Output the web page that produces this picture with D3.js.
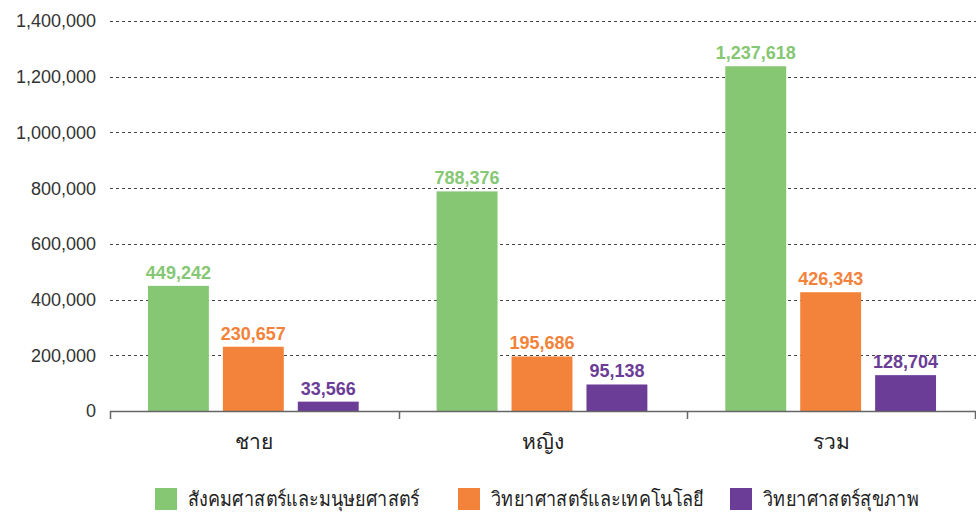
<!DOCTYPE html>
<html>
<head>
<meta charset="utf-8">
<script src="https://cdn.jsdelivr.net/npm/d3@7"></script>
<style>
  body { margin: 0; background: #fff; }
  text { font-family: "Liberation Sans", "Noto Sans", sans-serif; }
</style>
</head>
<body>
<div id="chart"></div>
<script>
'use strict';

// categories and series
let categories = ['ชาย', 'หญิง', 'รวม'];
let seriesNames = ['สังคมศาสตร์และมนุษยศาสตร์', 'วิทยาศาสตร์และเทคโนโลยี', 'วิทยาศาสตร์สุขภาพ'];
let social = [449242, 788376, 1237618];
let scitech = [230657, 195686, 426343];
let health = [33566, 95138, 128704];
let yTicks = [0, 200000, 400000, 600000, 800000, 1000000, 1200000, 1400000];

let colors = ['#86c774', '#f3823a', '#6b3d97'];
let seriesValues = [social, scitech, health];

let width = 976, height = 515;
let margin = { top: 21, right: 0, bottom: 104, left: 110 };

let svg = d3.select('#chart').append('svg')
    .attr('width', width)
    .attr('height', height);

let x0 = d3.scaleBand()
    .domain(categories)
    .range([margin.left, width - margin.right])
    .paddingInner(0)
    .paddingOuter(0);

let x1 = d3.scaleBand()
    .domain(d3.range(seriesNames.length))
    .range([0, x0.bandwidth()])
    .paddingInner(0.187)
    .paddingOuter(0.52);

let y = d3.scaleLinear()
    .domain([0, 1400000])
    .range([height - margin.bottom, margin.top]);

// gridlines
svg.append('g')
    .selectAll('line')
    .data(yTicks.filter(d => d > 0))
    .enter().append('line')
    .attr('x1', margin.left)
    .attr('x2', width)
    .attr('y1', d => Math.round(y(d)) + 0.5)
    .attr('y2', d => Math.round(y(d)) + 0.5)
    .style('stroke', '#444')
    .style('stroke-width', 1)
    .style('stroke-dasharray', '3,3');

// y axis labels
let fmt = d3.format(',');
svg.append('g')
    .selectAll('text')
    .data(yTicks)
    .enter().append('text')
    .attr('x', 96)
    .attr('y', d => y(d))
    .attr('dy', '0.36em')
    .attr('text-anchor', 'end')
    .style('font-size', '18px')
    .style('fill', '#333')
    .text(d => fmt(d));

// bars
let rows = [];
categories.forEach(function(c, i) {
    seriesValues.forEach(function(s, j) {
        rows.push({ cat: c, s: j, value: s[i] });
    });
});

let g = svg.append('g');
g.selectAll('rect')
    .data(rows)
    .enter().append('rect')
    .attr('x', d => x0(d.cat) + x1(d.s) - 1)
    .attr('width', x1.bandwidth())
    .attr('y', d => y(d.value))
    .attr('height', d => y(0) - y(d.value))
    .style('fill', d => colors[d.s]);

// value labels
g.selectAll('text')
    .data(rows)
    .enter().append('text')
    .attr('x', d => x0(d.cat) + x1(d.s) + x1.bandwidth() / 2 - 1)
    .attr('y', d => y(d.value) - 7)
    .attr('text-anchor', 'middle')
    .style('font-size', '18px')
    .style('font-weight', 'bold')
    .style('fill', d => colors[d.s])
    .text(d => fmt(d.value));

// baseline axis
let xAxis = svg.append('g');
xAxis.append('line')
    .attr('x1', margin.left)
    .attr('x2', width)
    .attr('y1', y(0) + 0.5)
    .attr('y2', y(0) + 0.5)
    .style('stroke', '#666')
    .style('stroke-width', 1.5);

let tickX = categories.map(c => x0(c)).concat([width - 1]);
xAxis.selectAll('line.tick')
    .data(tickX)
    .enter().append('line')
    .attr('class', 'tick')
    .attr('x1', d => Math.round(d) + 0.5)
    .attr('x2', d => Math.round(d) + 0.5)
    .attr('y1', y(0))
    .attr('y2', y(0) + 8)
    .style('stroke', '#666')
    .style('stroke-width', 1.5);

xAxis.selectAll('text')
    .data(categories)
    .enter().append('text')
    .attr('x', d => x0(d) + x0.bandwidth() / 2)
    .attr('y', y(0) + 38)
    .attr('text-anchor', 'middle')
    .style('font-size', '21px')
    .style('fill', '#222')
    .text(d => d);

// legend
let legendX = [155, 458, 730];
let legend = svg.append('g');
let items = legend.selectAll('g')
    .data(seriesNames)
    .enter().append('g')
    .attr('transform', (d, i) => 'translate(' + legendX[i] + ',488)');
items.append('rect')
    .attr('width', 22)
    .attr('height', 22)
    .style('fill', (d, i) => colors[i]);
// the original legend font is condensed, squeeze the text a bit
items.append('text')
    .attr('transform', 'translate(33,11) scale(0.9,1)')
    .attr('dy', '0.36em')
    .style('font-size', '20px')
    .style('fill', '#222')
    .text(d => d);
</script>
</body>
</html>
